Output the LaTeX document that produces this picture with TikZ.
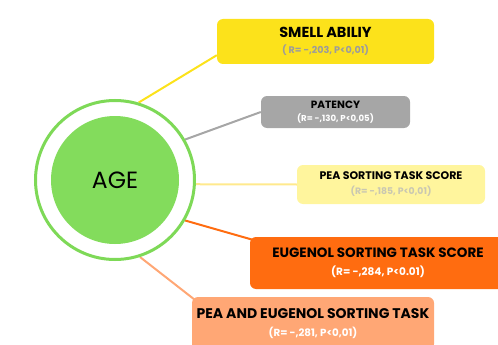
\documentclass[tikz,border=0pt]{standalone}
\usepackage{fontspec}
\setmainfont{Poppins}
\usetikzlibrary{backgrounds}

\definecolor{ringgreen}{HTML}{7ED957}
\definecolor{coregreen}{HTML}{83DC5C}
\definecolor{smellyellow}{HTML}{FCE21B}
\definecolor{patgray}{HTML}{A6A6A6}
\definecolor{peayellow}{HTML}{FFF59D}
\definecolor{eugorange}{HTML}{FF6C10}
\definecolor{mixorange}{HTML}{FFA775}
\definecolor{subgray}{HTML}{9C9C9C}
\definecolor{sublight}{HTML}{C9C7B2}

\tikzset{
  card/.style={rounded corners=6pt, inner sep=0pt, align=center},
  link/.style={line width=2pt},
}
\newcommand{\ttl}[2]{{\fontsize{#1}{#1}\selectfont\bfseries #2}}
\newcommand{\sub}[3]{{\fontsize{#1}{#1}\selectfont\bfseries\color{#2}#3}}

\begin{document}
\begin{tikzpicture}[x=1pt,y=-1pt]
		%%%%% START %%%%%
		\useasboundingbox (0,0) rectangle (498,345);
		
		\node[circle, draw=ringgreen, line width=3pt, minimum size=159pt, inner sep=0pt] (ring) at (115,180) {};
		\node[circle, fill=coregreen, minimum size=128pt, inner sep=0pt, font=\fontsize{23.5}{23.5}\selectfont] (age) at (ring.center) {AGE};
		
		\node[card, fill=smellyellow, minimum width=217pt, minimum height=45pt] (smell) at (325.5,41.5)
			{\ttl{14.5}{SMELL ABILIY}\\[4pt]\sub{9.6}{subgray}{( R= -,203, P<0,01)}};
		\node[card, fill=patgray, minimum width=149pt, minimum height=32pt] (patency) at (335.5,112)
			{\ttl{10.5}{PATENCY}\\[1pt]\sub{8.6}{white}{(R= -,130, P<0,05)}};
		\node[card, fill=peayellow, minimum width=188pt, minimum height=39pt] (pea) at (391,184.5)
			{\ttl{11}{PEA SORTING TASK SCORE}\\[3pt]\sub{9.3}{sublight}{(R= -,185, P<0,01)}};
		\node[card, fill=eugorange, minimum width=256pt, minimum height=52pt] (eug) at (378,263)
			{\ttl{13.5}{EUGENOL SORTING TASK SCORE}\\[6pt]\sub{10.5}{white}{(R= -,284, P<0.01)}};
		\node[card, fill=mixorange, minimum width=242pt, minimum height=53pt] (both) at (313,323.5)
			{\ttl{14}{PEA AND EUGENOL SORTING TASK}\\[6pt]\sub{10.3}{white}{(R= -,281, P<0,01)}};
		
		% spokes from the ring to the cards
		\begin{scope}[on background layer]
			\draw[link, smellyellow] (ring.73) -- ([yshift=9pt]smell.south west);
			\draw[link, patgray] (ring.30) -- (patency.west);
			\draw[link, peayellow!90!orange] (ring.-3) -- (pea.west);
			\draw[link, eugorange] (ring.-30) -- ([xshift=3pt,yshift=-3pt]eug.north west);
			\draw[link, mixorange] (ring.-72) -- ([xshift=3pt,yshift=-3pt]both.north west);
		\end{scope}
		
		%%%%% END %%%%%
\end{tikzpicture}
\end{document}
